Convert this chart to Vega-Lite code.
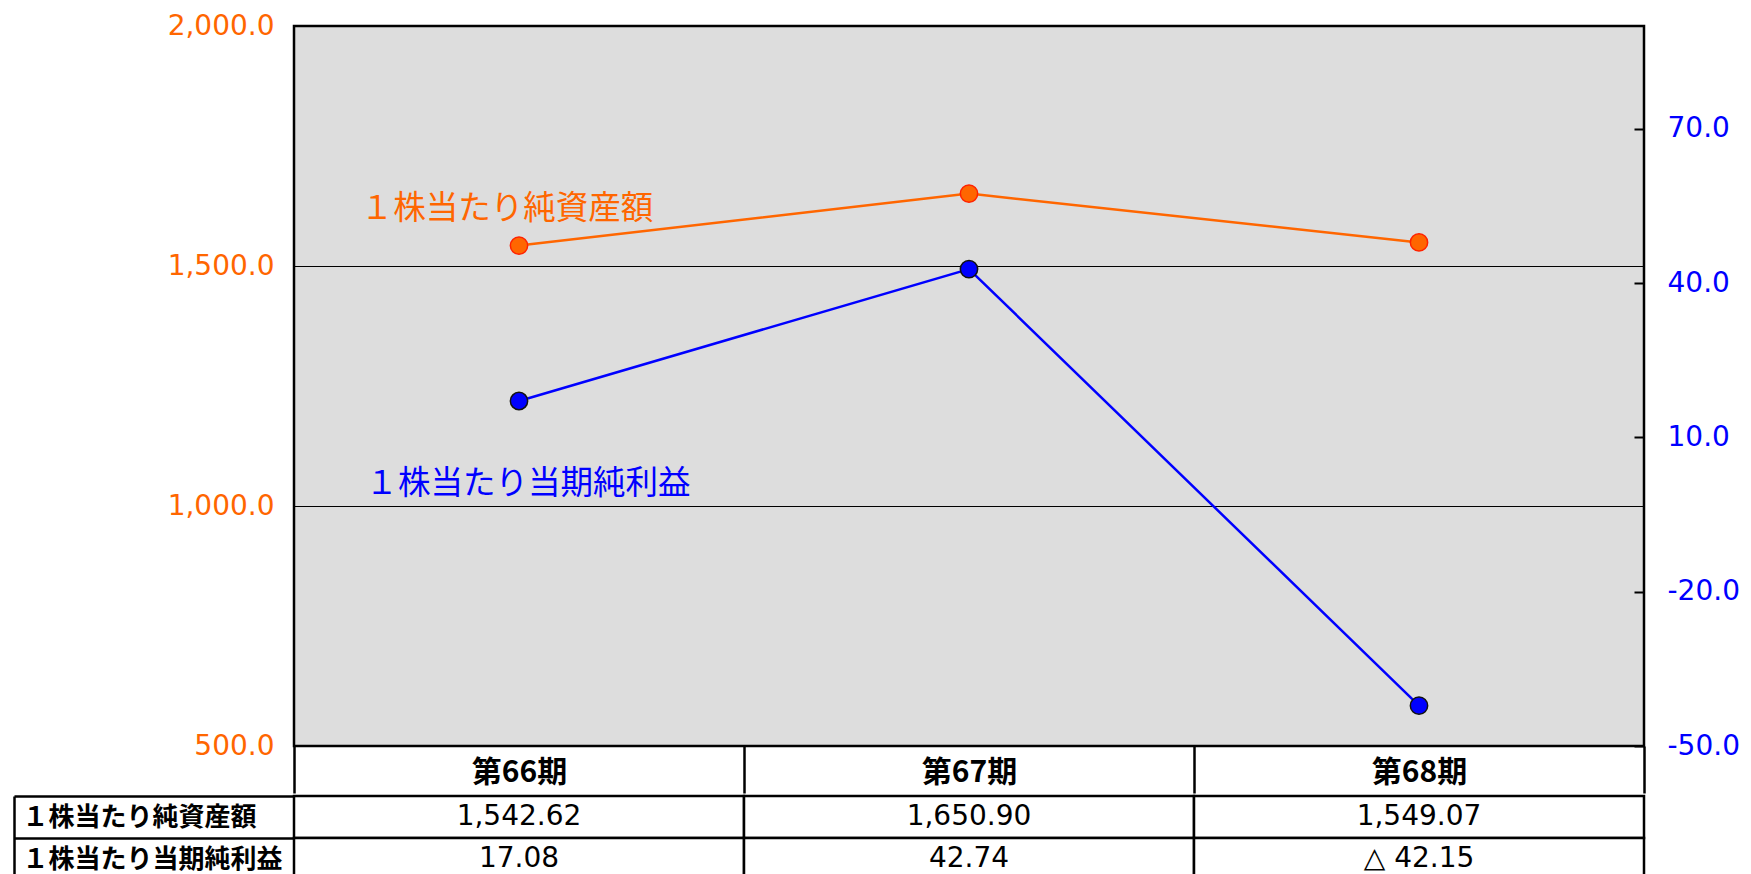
{
  "$schema": "https://vega.github.io/schema/vega-lite/v6.json",
  "background": "#ffffff",
  "padding": {"left": 12, "top": 10, "right": 0, "bottom": 0},
  "autosize": {"type": "pad"},
  "spacing": -20,
  "config": {"font": "DejaVu Sans", "concat": {"spacing": 0}},
  "resolve": {"scale": {"x": "independent", "y": "independent"}},
  "datasets": {
    "d": [
      {"period": "第66期", "series": "１株当たり純資産額", "value": 1542.62, "label": "1,542.62"},
      {"period": "第67期", "series": "１株当たり純資産額", "value": 1650.90, "label": "1,650.90"},
      {"period": "第68期", "series": "１株当たり純資産額", "value": 1549.07, "label": "1,549.07"},
      {"period": "第66期", "series": "１株当たり当期純利益", "value": 17.08, "label": "17.08"},
      {"period": "第67期", "series": "１株当たり当期純利益", "value": 42.74, "label": "42.74"},
      {"period": "第68期", "series": "１株当たり当期純利益", "value": -42.15, "label": "△ 42.15"}
    ]
  },
  "vconcat": [
    {
      "width": 1350,
      "height": 720,
      "view": {"fill": "#DDDDDD", "stroke": "#000000", "strokeWidth": 2.5},
      "data": {"name": "d"},
      "encoding": {
        "x": {
          "field": "period", "type": "nominal", "sort": ["第66期", "第67期", "第68期"],
          "bandPosition": 0.5,
          "scale": {"type": "band", "paddingInner": 0, "paddingOuter": 0},
          "axis": {
            "title": null, "orient": "bottom", "domain": false, "grid": false,
            "ticks": true, "tickBand": "extent", "tickSize": 47, "tickColor": "#000000", "tickWidth": 2.5,
            "labelAngle": 0, "labelFont": "Noto Sans CJK JP", "labelFontSize": 30, "labelFontWeight": "bold",
            "labelColor": "#000000", "labelBaseline": "middle", "labelPadding": -21
          }
        }
      },
      "layer": [
        {
          "transform": [{"filter": "datum.series === '１株当たり純資産額'"}],
          "encoding": {
            "y": {
              "field": "value", "type": "quantitative",
              "scale": {"domain": [500, 2000], "zero": false, "nice": false},
              "axis": {
                "title": null, "orient": "left", "values": [500, 1000, 1500, 2000], "format": ",.1f",
                "labelFont": "DejaVu Sans", "labelFontSize": 28, "labelColor": "#FF6600",
                "ticks": false, "domain": false, "grid": true, "gridColor": "#000000", "gridWidth": 1.2,
                "labelPadding": 20
              }
            }
          },
          "layer": [
            {"mark": {"type": "line", "color": "#FF6600", "strokeWidth": 2.5}},
            {"mark": {"type": "point", "filled": true, "size": 300, "fill": "#FF6600", "stroke": "#FF2200", "strokeWidth": 1.5, "opacity": 1}},
            {
              "transform": [{"filter": "datum.period === '第66期'"}],
              "mark": {"type": "text", "font": "Noto Sans CJK JP", "fontSize": 32.5, "color": "#FF6600", "dx": -12, "dy": -37, "baseline": "middle", "align": "center"},
              "encoding": {"text": {"field": "series"}}
            }
          ]
        },
        {
          "transform": [{"filter": "datum.series === '１株当たり当期純利益'"}],
          "encoding": {
            "y": {
              "field": "value", "type": "quantitative",
              "scale": {"domain": [-50, 90], "zero": false, "nice": false},
              "axis": {
                "title": null, "orient": "right", "values": [-50, -20, 10, 40, 70],
                "labelExpr": "replace(format(datum.value, '.1f'), '−', '-')",
                "labelFont": "DejaVu Sans", "labelFontSize": 28, "labelColor": "#0000FF",
                "ticks": true, "tickSize": -10, "tickColor": "#000000", "tickWidth": 2,
                "domain": false, "grid": false, "labelPadding": 33
              }
            }
          },
          "layer": [
            {"mark": {"type": "line", "color": "#0000FF", "strokeWidth": 2.5}},
            {"mark": {"type": "point", "filled": true, "size": 300, "fill": "#0000FF", "stroke": "#111111", "strokeWidth": 1.5, "opacity": 1}},
            {
              "transform": [{"filter": "datum.period === '第66期'"}],
              "mark": {"type": "text", "font": "Noto Sans CJK JP", "fontSize": 32.5, "color": "#0000FF", "dx": 9, "dy": 83, "baseline": "middle", "align": "center"},
              "encoding": {"text": {"field": "series"}}
            }
          ]
        }
      ],
      "resolve": {"scale": {"y": "independent"}}
    },
    {
      "width": 1350,
      "height": 84,
      "view": {"stroke": null},
      "data": {"name": "d"},
      "encoding": {
        "x": {
          "field": "period", "type": "nominal", "sort": ["第66期", "第67期", "第68期"],
          "scale": {"paddingInner": 0, "paddingOuter": 0}, "axis": null
        },
        "y": {
          "field": "series", "type": "nominal", "sort": ["１株当たり純資産額", "１株当たり当期純利益"],
          "scale": {"paddingInner": 0, "paddingOuter": 0},
          "axis": {
            "title": null, "orient": "left", "offset": 280,
            "domain": true, "domainColor": "#000000", "domainWidth": 2.5,
            "ticks": true, "tickBand": "extent", "tickSize": -280, "tickColor": "#000000", "tickWidth": 2.5,
            "labelAlign": "left", "labelPadding": 272, "labelBaseline": "middle", "labelLimit": 0,
            "labelFont": "Noto Sans CJK JP", "labelFontSize": 26, "labelFontWeight": "bold", "labelColor": "#000000"
          }
        }
      },
      "layer": [
        {"mark": {"type": "rect", "fill": "#ffffff", "stroke": "#000000", "strokeWidth": 2.5}},
        {"mark": {"type": "text", "font": "DejaVu Sans", "fontSize": 28, "color": "#000000"}, "encoding": {"text": {"field": "label"}}}
      ]
    }
  ]
}
